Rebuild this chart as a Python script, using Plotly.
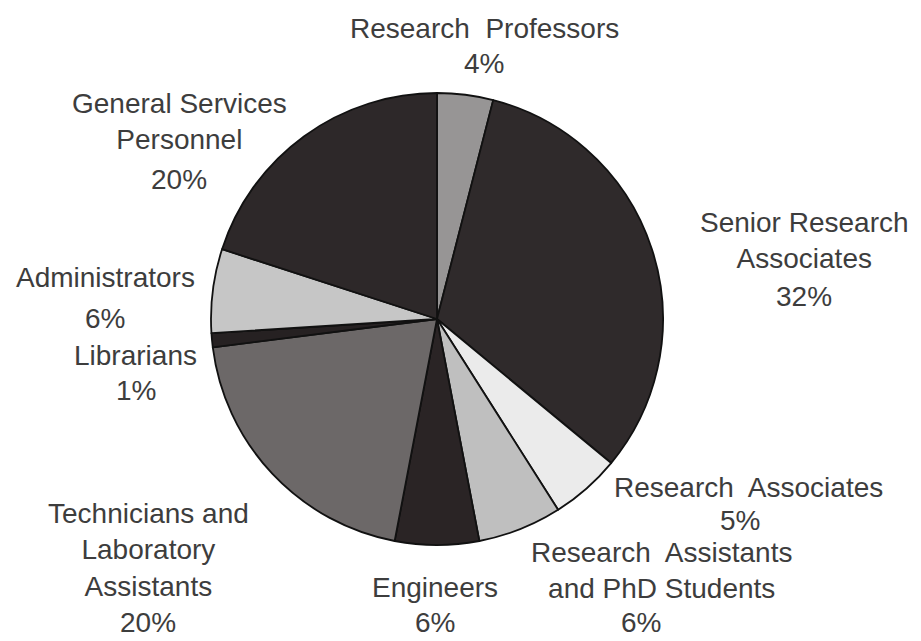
import plotly.graph_objects as go

# Staff composition by category (share of total, %)
categories = [
    "Research\u00a0 Professors",
    "Senior Research<br>Associates",
    "Research\u00a0 Associates",
    "Research\u00a0 Assistants<br>and PhD Students",
    "Engineers",
    "Technicians and<br>Laboratory<br>Assistants",
    "Librarians",
    "Administrators",
    "General Services<br>Personnel",
]
shares = [4, 32, 5, 6, 6, 20, 1, 6, 20]
slice_colors = [
    "#979595", "#2f2a2b", "#ebebeb", "#bfbfbf", "#2a2425",
    "#6c6868", "#262122", "#c6c6c6", "#2d2829",
]

W, H = 921, 641
TEXT_COLOR = "#3d3d3d"
FONT = "Liberation Sans, Arial, Helvetica, sans-serif"

# label anchor points in pixels: (name x, name y, percent x, percent y)
label_pos = [
    (484, 28, 484, 63),
    (804, 240, 804, 297),
    (748, 487, 740, 520),
    (661, 570, 641, 622),
    (435, 587, 435, 622),
    (148, 550, 148, 622),
    (135, 355, 136, 390),
    (105, 278, 105, 318),
    (179, 121, 179, 179),
]

fig = go.Figure(
    go.Pie(
        labels=[c.replace("<br>", " ") for c in categories],
        values=shares,
        sort=False,
        direction="clockwise",
        rotation=0,
        textinfo="none",
        hoverinfo="label+percent",
        marker=dict(colors=slice_colors, line=dict(color="#111111", width=1.8)),
        domain=dict(x=[211 / W, 663 / W], y=[1 - 545 / H, 1 - 93 / H]),
        showlegend=False,
    )
)


def px(x, y):
    return x / W, 1 - y / H


annotations = []
for name, val, (nx, ny, vx, vy) in zip(categories, shares, label_pos):
    ax, ay = px(nx, ny)
    annotations.append(dict(x=ax, y=ay, text=name))
    bx, by = px(vx, vy)
    annotations.append(dict(x=bx, y=by, text=f"{val}%"))

for a in annotations:
    a.update(
        xref="paper", yref="paper", xanchor="center", yanchor="middle",
        showarrow=False, align="center",
        font=dict(family=FONT, size=28, color=TEXT_COLOR),
    )

fig.update_layout(
    width=W,
    height=H,
    margin=dict(l=0, r=0, t=0, b=0),
    paper_bgcolor="white",
    plot_bgcolor="white",
    annotations=annotations,
)

fig.write_html("out.html")
